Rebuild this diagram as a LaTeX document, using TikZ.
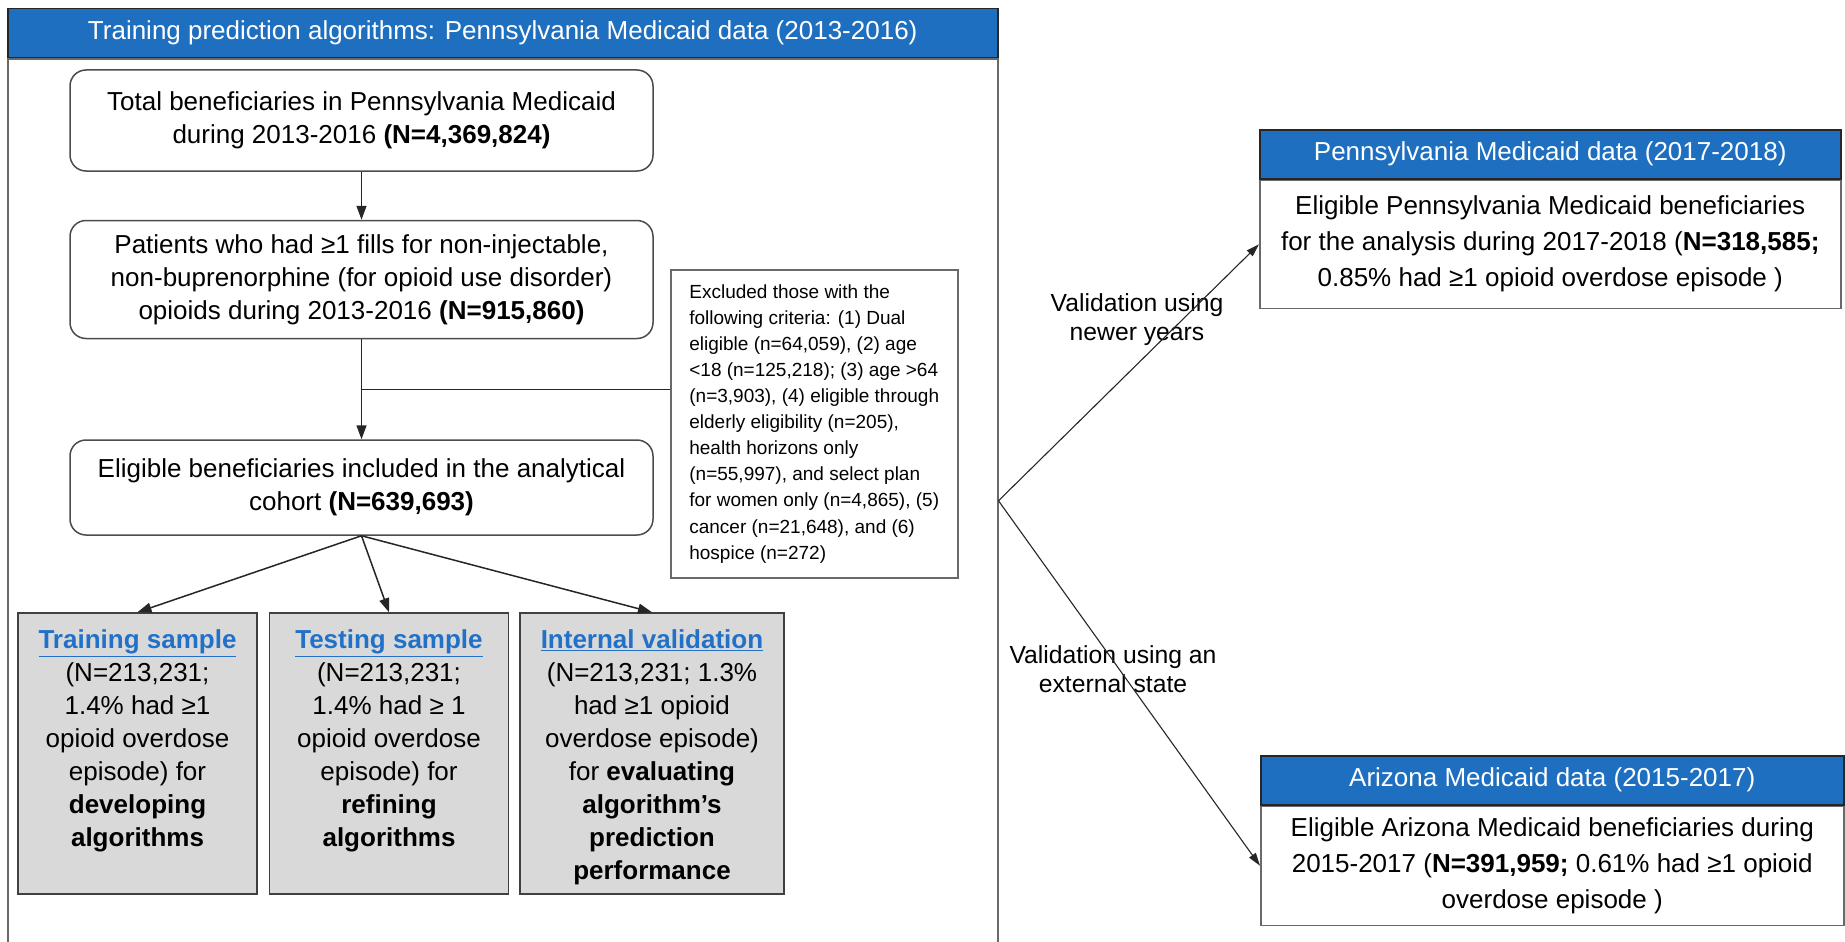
\documentclass[tikz,border=0pt]{standalone}
\usepackage{fontspec}
\setmainfont{Liberation Sans}
\usetikzlibrary{arrows.meta,positioning,calc}

\definecolor{headblue}{RGB}{30,111,192}
\definecolor{linkblue}{RGB}{33,113,200}
\definecolor{samplegrey}{RGB}{217,217,217}
\definecolor{framegrey}{RGB}{105,105,105}

\tikzset{
	panelhead/.style={draw=black!85, line width=1.5pt, fill=headblue, text=white, inner sep=0pt, minimum height=49pt, font=\fontsize{26}{30}\selectfont},
	panelbody/.style={draw=framegrey, line width=1.5pt, fill=white, align=center, inner sep=0pt, font=\fontsize{26}{36}\selectfont},
	flowbox/.style={draw=black!70, line width=1.5pt, rounded corners=16pt, align=center, minimum width=583pt, font=\fontsize{26}{33}\selectfont},
	excludebox/.style={draw=framegrey, line width=1.5pt, align=left, minimum width=287pt, minimum height=308pt, font=\fontsize{19}{26.1}\selectfont},
	samplebox/.style={draw=black!75, line width=1.5pt, fill=samplegrey, inner sep=17pt, minimum height=281pt, font=\fontsize{26}{33}\selectfont},
	flow/.style={-{Triangle[length=14pt,width=10pt]}, line width=1.5pt, black!85},
	validation/.style={-{Triangle[length=13pt,width=8pt]}, line width=1.1pt, black!85},
	note/.style={align=center, font=\fontsize{24.7}{29}\selectfont},
}

\newcommand{\datapanel}[6]{
	\node[panelhead, anchor=north west, minimum width=#3] (#1-head) at (#2) {#5};
	\node[panelbody, anchor=north west, minimum width=#3, minimum height=#4] (#1) at (#1-head.south west) {#6};
}
\newcommand{\sampletitle}[1]{{\color{linkblue}\underline{\textbf{#1}}}}
\newcommand{\sampletext}[2]{\parbox[c][247pt][t]{#1}{\centering #2}}

\begin{document}
\begin{tikzpicture}[x=1pt,y=-1pt]
	\useasboundingbox (0,0) rectangle (1845,942);

	\datapanel{train}{7,8}{990pt}{883pt}{Training prediction algorithms: Pennsylvania Medicaid data (2013-2016)}{}
	\datapanel{penn}{1259,129}{581pt}{128pt}{Pennsylvania Medicaid data (2017-2018)}{Eligible Pennsylvania Medicaid beneficiaries\\for the analysis during 2017-2018 (\textbf{N=318,585;}\\0.85\% had ≥1 opioid overdose episode )}
	\datapanel{arizona}{1260,755}{583pt}{119pt}{Arizona Medicaid data (2015-2017)}{Eligible Arizona Medicaid beneficiaries during\\2015-2017 (\textbf{N=391,959;} 0.61\% had ≥1 opioid\\overdose episode )}

	\node[flowbox, minimum height=101pt] (total) at (361.5,120.5) {Total beneficiaries in Pennsylvania Medicaid\\during 2013-2016 \textbf{(N=4,369,824)}};
	\node[flowbox, minimum height=118pt, below=48pt of total] (fills) {Patients who had ≥1 fills for non-injectable,\\non-buprenorphine (for opioid use disorder)\\opioids during 2013-2016 \textbf{(N=915,860)}};
	\node[flowbox, minimum height=95pt, below=100pt of fills] (cohort) {Eligible beneficiaries included in the analytical\\cohort \textbf{(N=639,693)}};
	\node[excludebox, anchor=north west] (excluded) at (670,269) {Excluded those with the\\following criteria: (1) Dual\\eligible (n=64,059), (2) age\\<18 (n=125,218); (3) age >64\\(n=3,903), (4) eligible through\\elderly eligibility (n=205),\\health horizons only\\(n=55,997), and select plan\\for women only (n=4,865), (5)\\cancer (n=21,648), and (6)\\hospice (n=272)};

	\node[samplebox, minimum width=239pt] (training) at (137.5,753.5) {\sampletext{205pt}{\sampletitle{Training sample}\\(N=213,231;\\1.4\% had ≥1\\opioid overdose\\episode) for\\\textbf{developing}\\\textbf{algorithms}}};
	\node[samplebox, minimum width=239pt, right=11pt of training] (testing) {\sampletext{205pt}{\sampletitle{Testing sample}\\(N=213,231;\\1.4\% had ≥ 1\\opioid overdose\\episode) for\\\textbf{refining}\\\textbf{algorithms}}};
	\node[samplebox, minimum width=264pt, right=10pt of testing] (internal) {\sampletext{230pt}{\sampletitle{Internal validation}\\(N=213,231; 1.3\%\\had ≥1 opioid\\overdose episode)\\for \textbf{evaluating}\\\textbf{algorithm’s}\\\textbf{prediction}\\\textbf{performance}}};

	\coordinate (split) at ($(fills.south)!0.5!(cohort.north)$);
	\draw[flow] (total) -- (fills);
	\draw[flow] (fills) -- (cohort);
	\draw[flow, -] (split) -- (split -| excluded.west);
	\draw[flow] (cohort.south) -- (training.north);
	\draw[flow] (cohort.south) -- (testing.north);
	\draw[flow] (cohort.south) -- (internal.north);

	\node[note] (newyears) at (1137,320) {Validation using\\newer years};
	\node[note] (external) at (1113,669) {Validation using an\\external state};
	\draw[validation] (train.east) -- (penn.west);
	\draw[validation] (train.east) -- (arizona.west);
\end{tikzpicture}
\end{document}
